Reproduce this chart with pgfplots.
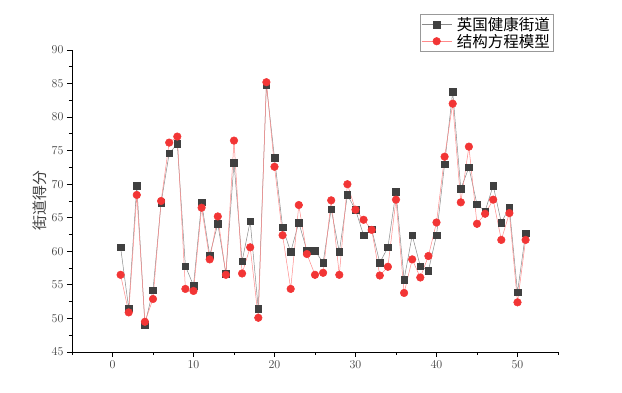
\documentclass[border=0pt]{standalone}
\usepackage{pgfplots}
\pgfplotsset{compat=1.18}
\usepackage{fontspec}
\newfontfamily\cjk{Noto Sans CJK SC}
\definecolor{sqc}{HTML}{404040}
\definecolor{sql}{HTML}{8A8A8A}
\definecolor{rc}{HTML}{F23535}
\definecolor{rl}{HTML}{FF8A8A}
\pgfplotstableread{
x a b
1 60.6 56.5
2 51.5 50.9
3 69.8 68.4
4 49.1 49.5
5 54.2 52.9
6 67.2 67.5
7 74.6 76.2
8 76.0 77.1
9 57.8 54.4
10 54.9 54.1
11 67.3 66.5
12 59.4 58.8
13 64.1 65.2
14 56.7 56.5
15 73.2 76.5
16 58.5 56.7
17 64.5 60.6
18 51.4 50.1
19 84.8 85.2
20 73.9 72.6
21 63.6 62.4
22 59.9 54.4
23 64.3 66.9
24 60.1 59.6
25 60.1 56.5
26 58.3 56.8
27 66.3 67.6
28 59.9 56.5
29 68.4 70.0
30 66.2 66.2
31 62.4 64.7
32 63.3 63.2
33 58.3 56.4
34 60.6 57.7
35 68.9 67.7
36 55.8 53.8
37 62.4 58.8
38 57.8 56.1
39 57.1 59.3
40 62.4 64.3
41 73.0 74.1
42 83.8 82.0
43 69.3 67.3
44 72.5 75.6
45 67.0 64.1
46 66.0 65.6
47 69.8 67.7
48 64.3 61.7
49 66.5 65.7
50 53.9 52.4
51 62.7 61.7
}\data
\begin{document}
\begin{tikzpicture}
\begin{axis}[name=ax,
  scale only axis, width=486pt, height=302pt,
  xmin=-5, xmax=55, ymin=45, ymax=90,
  axis lines=left, axis line style={-, line width=0.9pt},
  xtick={0,10,...,50}, minor xtick={-5,5,...,55},
  ytick={45,50,...,90}, minor ytick={47.5,52.5,...,87.5},
  tick align=outside, tick style={black, line width=0.8pt},
  major tick length=5pt, minor tick length=3pt,
  tick label style={font=\fontsize{12.5}{14}\selectfont, text=black!75},
  ylabel={\cjk 街道得分}, ylabel style={font=\fontsize{15}{17}\selectfont, text=black!75, yshift=-2pt},
  legend style={at={(rel axis cs:0.99,1.119)}, anchor=north east, draw=black!40, font=\fontsize{15.5}{16}\selectfont\cjk, row sep=-2pt, column sep=3pt, inner sep=1pt},
  legend cell align=left,
  legend image code/.code={\draw[mark repeat=2,mark phase=2] plot coordinates {(0pt,0pt)(15pt,0pt)(30pt,0pt)};},
  clip=false,
]
\addplot[sql, line width=0.5pt, mark=square*, mark size=3.3pt, mark options={draw=sqc, fill=sqc}] table[x=x,y=a]{\data};
\addlegendentry{英国健康街道}
\addplot[rl, line width=0.5pt, mark=*, mark size=3.8pt, mark options={draw=rc, fill=rc}] table[x=x,y=b]{\data};
\addlegendentry{结构方程模型}
\end{axis}
\pgfresetboundingbox
\path (ax.south west) ++(-72pt,-41pt) rectangle ++(622pt,393pt);
\end{tikzpicture}
\end{document}
